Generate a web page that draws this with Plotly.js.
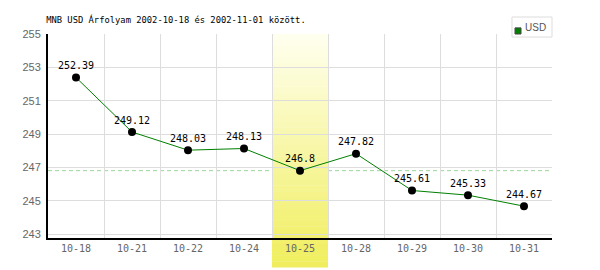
<!DOCTYPE html>
<html><head><meta charset="utf-8">
<script src="https://cdn.plot.ly/plotly-3.0.1.min.js"></script>
<style>html,body{margin:0;padding:0;background:#fff}#c{width:600px;height:270px}</style>
</head><body><div id="c"></div>
<script>
const categories = ['10-18','10-21','10-22','10-24','10-25','10-28','10-29','10-30','10-31'];
const usdValues = [252.39, 249.12, 248.03, 248.13, 246.8, 247.82, 245.61, 245.33, 244.67];
const labels = ['252.39','249.12','248.03','248.13','246.8','247.82','245.61','245.33','244.67'];
const highlightIndex = 4;
const seriesName = 'USD';
const titleText = 'MNB USD Árfolyam 2002-10-18 és 2002-11-01 között.';

const mono = 'DejaVu Sans Mono, monospace';
const n = categories.length;

const shapes = [];
// reference dashed line at highlighted value (drawn first, band covers it)
shapes.push({type:'line', xref:'paper', yref:'y', x0:0, x1:1,
  y0: usdValues[highlightIndex], y1: usdValues[highlightIndex],
  line:{color:'#99d699', width:1, dash:'4px,3px'}, layer:'between'});
// gradient band (highlighted day)
const steps = 40;
const colTop = [255,255,240], colBot = [240,238,92];
const yTop = 1.0, yBot = -0.142;
for (let i = 0; i < steps; i++) {
  const t = (i + 0.5) / steps;
  const c = colTop.map((v, k) => Math.round(v + (colBot[k] - v) * t));
  shapes.push({type:'rect', xref:'paper', yref:'paper', layer:'between',
    x0: highlightIndex / n, x1: (highlightIndex + 1) / n,
    y0: yTop + (yBot - yTop) * (i + 1) / steps - 0.002, y1: yTop + (yBot - yTop) * i / steps,
    fillcolor:'rgb(' + c.join(',') + ')', line:{width:0}});
}
// legend box
shapes.push({type:'rect', xref:'paper', yref:'paper', x0:0.9206, x1:1.0, y0:0.985, y1:1.0833,
  fillcolor:'#ffffff', line:{color:'#dddddd', width:1}, layer:'above'});
shapes.push({type:'rect', xref:'paper', yref:'paper', x0:0.9266, x1:0.9385, y0:1.0, y1:1.03,
  fillcolor:'#008000', line:{color:'#444444', width:1}, layer:'above'});

const trace = {
  x: categories, y: usdValues, type:'scatter', mode:'lines+markers+text',
  name: seriesName, text: labels, textposition:'top center',
  textfont:{family:mono, size:10, color:'#000'},
  line:{color:'#008000', width:1},
  marker:{color:'#000', size:8},
  cliponaxis:false, hoverinfo:'none'
};

const layout = {
  width:600, height:270,
  margin:{l:48, r:48, t:34, b:32},
  paper_bgcolor:'#fff', plot_bgcolor:'#fff',
  showlegend:false,
  title:{text:titleText, x:0.077, xanchor:'left', y:0.927, yanchor:'middle',
    font:{family:mono, size:8.8, color:'#000'}},
  xaxis:{type:'category', tickson:'boundaries', showgrid:true, gridcolor:'#dddddd', gridwidth:1,
    ticks:'', showline:true, linecolor:'#000', linewidth:2, zeroline:false,
    range:[-0.5, n - 0.5], fixedrange:true,
    tickfont:{family:mono, size:10, color:'#666'}},
  yaxis:{range:[242.76, 255], tick0:243, dtick:2, showgrid:true, gridcolor:'#dddddd', gridwidth:1,
    ticks:'', showline:true, linecolor:'#000', linewidth:2, zeroline:false, fixedrange:true,
    ticklabelstandoff:3,
    tickfont:{family:'Liberation Sans, sans-serif', size:11, color:'#666'}},
  shapes: shapes,
  annotations:[{xref:'paper', yref:'paper', x:0.9425, y:1.034, xanchor:'left', yanchor:'middle',
    text:seriesName, showarrow:false, font:{family:'Liberation Sans, sans-serif', size:10, color:'#555'}}]
};
Plotly.newPlot('c', [trace], layout, {staticPlot:true});
</script></body></html>
